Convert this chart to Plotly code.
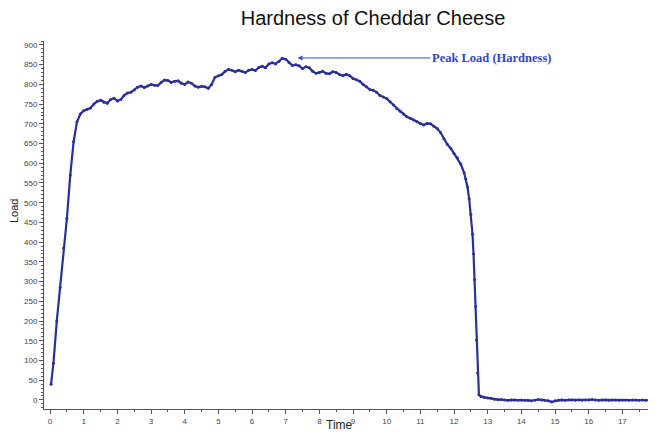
import plotly.graph_objects as go

# ---- data ----
rise_time = [0.03]
rise_load = [40]

plateau_time = [round(0.1 * i, 2) for i in range(1, 124)]  # 0.1 .. 12.3
plateau_load = [
    93, 200, 285, 385, 460, 570, 655, 705, 725, 733,
    737, 740, 750, 757, 760, 755, 752, 762, 765, 758,
    762, 772, 778, 780, 786, 793, 796, 792, 796, 800,
    798, 797, 805, 811, 810, 805, 808, 809, 803, 800,
    806, 803, 796, 793, 795, 794, 790, 800, 818, 822,
    825, 833, 838, 836, 832, 836, 833, 830, 836, 838,
    835, 843, 846, 842, 852, 855, 852, 858, 866, 864,
    855, 848, 850, 847, 840, 845, 842, 833, 828, 830,
    833, 828, 827, 832, 830, 825, 822, 826, 822, 815,
    812, 808, 800, 794, 787, 785, 780, 772, 768, 764,
    756, 748, 738, 732, 725, 718, 714, 710, 705, 700,
    697, 701, 700, 694, 688, 678, 662, 648, 638, 625,
    614, 598, 576,
]

drop_time = [12.35, 12.4, 12.45, 12.5, 12.55, 12.58, 12.61, 12.64, 12.67, 12.70, 12.74, 12.8, 12.9]
drop_load = [560, 540, 510, 470, 420, 370, 305, 237, 152, 68, 13, 9, 6]

tail_time = [round(13.0 + 0.1 * i, 2) for i in range(51)]  # 13.0 .. 18.0
tail_load = [
    5, 4, 2, 1, 1, 0, -1, 0, 0, -1,
    0, -1, -1, -2, -1, 1, 0, -1, -2, -5,
    -2, -1, 0, -1, 0, 0, -1, 0, -1, 0,
    0, 1, 0, -1, 0, 0, -1, 0, 0, -1,
    0, 0, -1, 0, 0, -1, 0, -1, 0, 0,
    -1,
]

time = rise_time + plateau_time + drop_time + tail_time
load = rise_load + plateau_load + drop_load + tail_load

peak_label = "Peak Load (Hardness)"
peak_t, peak_load = 7.35, 867

LINE = "#28309a"
AXIS = "#555555"

# page body has an 8px margin; figure is sized to fill the rest of the window
W, H = 648, 424
ML, MR, MT, MB = 36, 0, 33, 23
PW, PH = W - ML - MR, H - MT - MB

fig = go.Figure()
fig.add_trace(go.Scatter(
    x=time, y=load, mode="lines+markers",
    line=dict(color=LINE, width=2.2),
    marker=dict(color=LINE, size=3),
    showlegend=False, hoverinfo="skip",
))

fig.add_annotation(
    x=peak_t, y=peak_load, xref="x", yref="y",
    text=peak_label, showarrow=True,
    ax=133, ay=0, axref="pixel", ayref="pixel",
    xanchor="left", yanchor="middle",
    arrowhead=2, arrowsize=1, arrowwidth=1, arrowcolor="#3d4fd6",
    standoff=0, startstandoff=0,
    font=dict(family="Liberation Serif", size=12.5, color="#3344cc", weight="bold"),
)
fig.add_annotation(
    text="Load", x=-30 / PW, y=(401 - 203) / PH, xref="paper", yref="paper",
    xanchor="center", yanchor="middle",
    showarrow=False, textangle=-90,
    font=dict(family="Liberation Sans", size=11, color="#222222"),
)
fig.add_annotation(
    text="Time", x=(331 - ML) / PW, y=-16 / PH, xref="paper", yref="paper",
    xanchor="center", yanchor="middle", showarrow=False,
    font=dict(family="Liberation Sans", size=12, color="#222222"),
)

fig.update_layout(
    width=W, height=H,
    margin=dict(l=ML, r=MR, t=MT, b=MB, autoexpand=False),
    paper_bgcolor="white", plot_bgcolor="white",
    title=dict(
        text="Hardness of Cheddar Cheese",
        x=365 / W, xanchor="center", y=1 - 10 / H, yanchor="middle",
        font=dict(family="Liberation Sans", size=20, color="#111111"),
    ),
)

fig.update_xaxes(
    range=[-0.18, 18.0], tick0=0, dtick=1,
    showgrid=False, zeroline=False,
    showline=True, linecolor=AXIS, linewidth=1,
    ticks="outside", ticklen=4, tickcolor=AXIS, tickwidth=1,
    minor=dict(dtick=0.5, ticks="outside", ticklen=2, tickcolor=AXIS, showgrid=False),
    tickfont=dict(family="Liberation Sans", size=8, color="#444444"),
)
fig.update_yaxes(
    range=[-23, 910], tick0=0, dtick=50,
    showgrid=False, zeroline=False,
    showline=True, linecolor=AXIS, linewidth=1,
    ticks="outside", ticklen=4, tickcolor=AXIS, tickwidth=1,
    minor=dict(dtick=10, ticks="outside", ticklen=2, tickcolor=AXIS, showgrid=False),
    tickfont=dict(family="Liberation Sans", size=8, color="#444444"),
)

fig.write_html("out.html")
